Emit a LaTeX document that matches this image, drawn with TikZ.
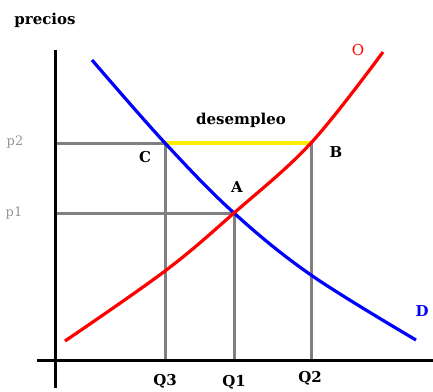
\documentclass[tikz,border=0pt]{standalone}
\usepackage{fontspec}
\setmainfont{DejaVu Serif}
\begin{document}
\begin{tikzpicture}[x=1pt,y=-1pt,
  axis/.style={line width=3pt,black},
  guide/.style={line width=3pt,color={rgb,255:red,128;green,128;blue,128}},
  curve/.style={line width=3.2pt},
  lbl/.style={font=\bfseries\fontsize{15}{17}\selectfont,inner sep=0pt},
  plbl/.style={font=\fontsize{13}{15}\selectfont,inner sep=0pt,color={rgb,255:red,150;green,150;blue,150}}]
\useasboundingbox (0,0) rectangle (433,391);
% key points
\coordinate (C) at (165,143);
\coordinate (A) at (234,213);
\coordinate (B) at (311,143);
\coordinate (yp2) at (55,143);
\coordinate (yp1) at (55,213);
\coordinate (xq3) at (165,360);
\coordinate (xq1) at (234,360);
\coordinate (xq2) at (311,360);
\coordinate (ytop) at (55,50);
\coordinate (ybot) at (55,388);
\coordinate (xl) at (37,360);
\coordinate (xr) at (433,360);
% guides
\draw[guide] (yp2) -- (C) -- (xq3);
\draw[guide] (yp1) -- (A) -- (xq1);
\draw[guide] (B) -- (xq2);
% axes
\draw[axis] (ytop) -- (ybot);
\draw[axis] (xl) -- (xr);
% yellow
\draw[line width=3.5pt,color={rgb,255:red,255;green,240;blue,0}] (C) -- (B);
% curves
\draw[curve,blue] plot[smooth,tension=0.6] coordinates {(92,60) (C) (A) (311,275) (416,340)};
\draw[curve,red] plot[smooth,tension=0.6] coordinates {(65,341) (165,271) (A) (B) (383,52)};
% labels
\node[lbl] (tprecios) at (45,20) {precios};
\node[plbl] (tp2) at (15,142) {p2};
\node[plbl] (tp1) at (14,213) {p1};
\node[lbl] (tC) at (145,157) {C};
\node[lbl] (tA) at (237,187) {A};
\node[lbl] (tB) at (336,152) {B};
\node[lbl] (tdes) at (241,120) {desempleo};
\node[inner sep=0pt,red,font=\fontsize{15}{17}\selectfont] (tO) at (358,50) {O};
\node[lbl,blue] (tD) at (422,311) {D};
\node[lbl] (tQ3) at (165,381) {Q3};
\node[lbl] (tQ1) at (234,382) {Q1};
\node[lbl] (tQ2) at (310,378) {Q2};
\end{tikzpicture}
\end{document}
